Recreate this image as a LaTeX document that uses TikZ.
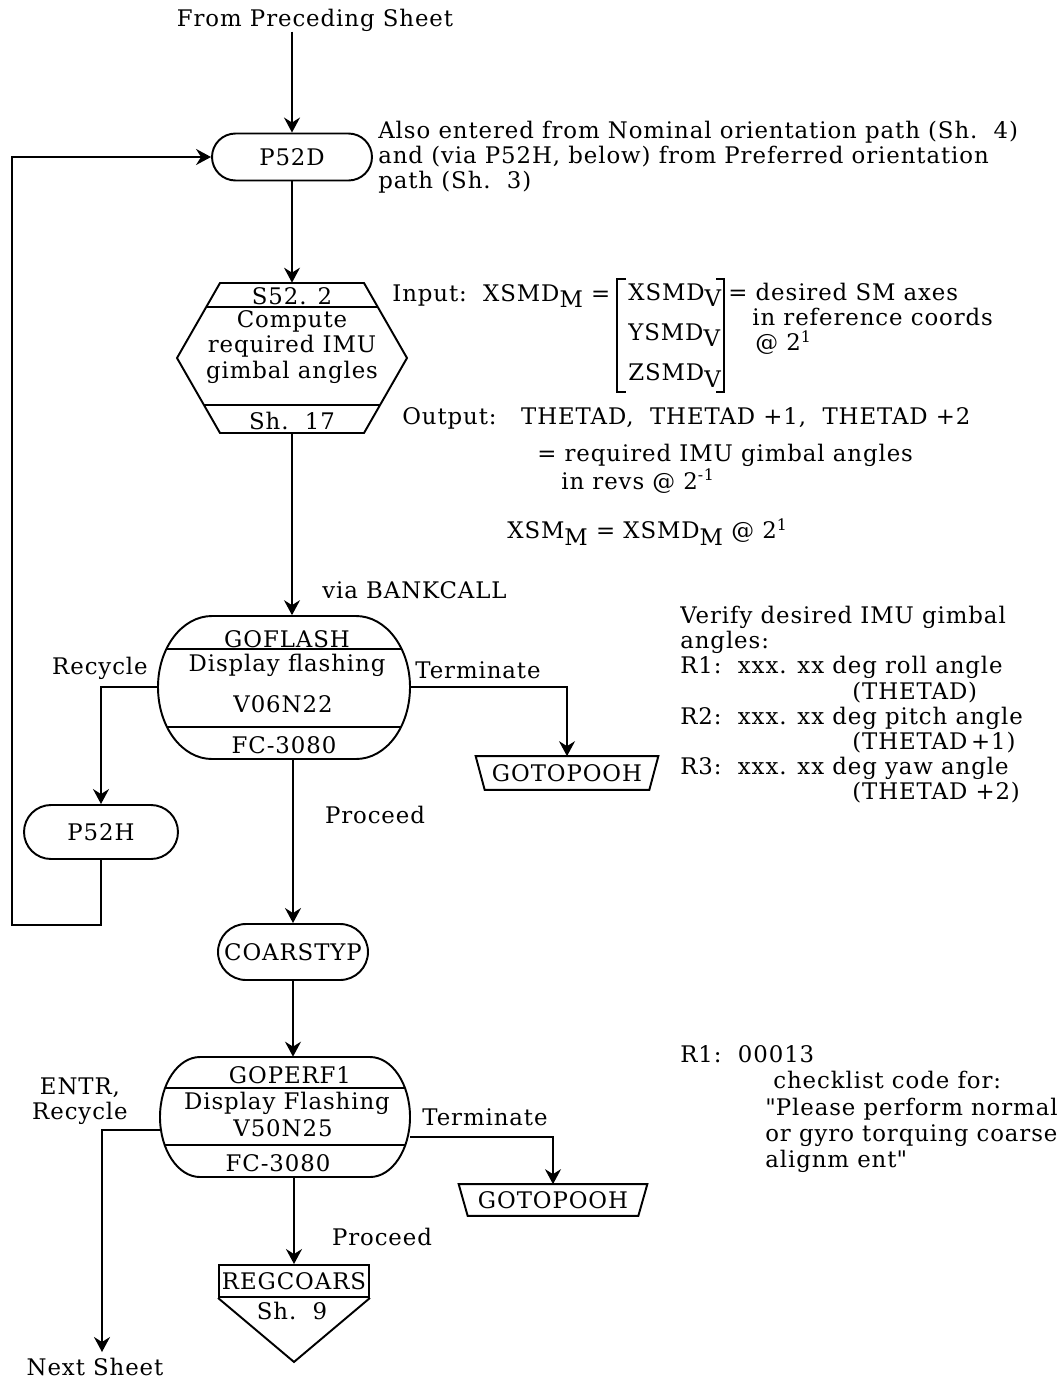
\documentclass[tikz,border=0pt]{standalone}
\usepackage{fontspec}
\setmainfont{DejaVu Serif}[LetterSpace=4]
\usepackage{tikz}
\usetikzlibrary{arrows.meta,shapes.misc}
\newcommand{\lsub}[1]{\raisebox{-0.55ex}{#1}}
\newcommand{\hsup}[1]{\raisebox{0.75ex}{\small #1}}
\tikzstyle{line} = [line width=1.1pt]
\tikzstyle{flow} = [line width=1.1pt, -{Stealth[length=3mm,width=3.2mm,inset=1mm]}]
\tikzstyle{term} = [draw, rounded rectangle, line width=1.1pt, inner sep=0pt]
\tikzstyle{hold} = [inner sep=0pt]
\tikzstyle{lbl} = [inner sep=0pt]
\tikzstyle{note} = [anchor=north west, align=left, inner sep=0pt]

\begin{document}
\begin{tikzpicture}[x=0.02cm, y=-0.02cm, font=\fontsize{13}{14.3}\selectfont]
	\useasboundingbox (0,0) rectangle (1060,1379);

	% entry and P52D
	\node[lbl] (prev) at (315,20) {From Preceding Sheet};
	\node[term, minimum width=3.2cm, minimum height=0.94cm] (p52d) at (292,157) {P52D};
	\node[note] (alsonote) at (378,121) {Also entered from Nominal orientation path (Sh.~~4)\\
		and (via P52H, below) from Preferred orientation\\path (Sh.~~3)};
	\draw[flow] (prev.south -| p52d.north) -- (p52d.north);

	% S52.2 hexagon
	\node[hold, minimum width=4.6cm, minimum height=3cm] (s522) at (292,358) {};
	\draw[line] (220,283) -- (364,283) -- (407,358) -- (364,433) -- (220,433) -- (177,358) -- cycle;
	\draw[line] (206,307) -- (378,307);
	\draw[line] (204,405) -- (380,405);
	\node[lbl] (s522id) at (292,296) {S52. 2};
	\node[lbl, align=center] (s522txt) at (292,347) {Compute\\required IMU\\gimbal angles};
	\node[lbl] (s522sh) at (292,421) {Sh.~~17};
	\draw[flow] (p52d.south) -- (s522.north);

	% input / output notes
	\node[note] (input) at (392,284) {Input:~~XSMD\lsub{M} =};
	\draw[line] (626,279) -| (617,392) -- (626,392);
	\draw[line] (716,279) -| (724,392) -- (716,392);
	\node[note] (xvec) at (628,283) {XSMD\lsub{V}\\[0.3cm]YSMD\lsub{V}\\[0.3cm]ZSMD\lsub{V}};
	\node[note] (desired) at (728,283) {= desired SM axes\\\hspace*{0.48cm}in reference coords\\\hspace*{0.54cm}@ 2\hsup{1}};
	\node[note] (output) at (402,407) {Output:~~~THETAD,~~THETAD +1,~~THETAD +2};
	\node[note] (reqd) at (537,444) {= required IMU gimbal angles\\\hspace*{0.48cm}in revs @ 2\hsup{-1}};
	\node[note] (xsm) at (507,518) {XSM\lsub{M} = XSMD\lsub{M} @ 2\hsup{1}};
	\node[note] (bank) at (322,581) {via BANKCALL};

	% GOFLASH display
	\node[hold, minimum width=5.04cm, minimum height=2.86cm] (goflash) at (284,687) {};
	\draw[line] (212,616) -- (356,616) .. controls (386,616) and (410,648) .. (410,687)
		.. controls (410,727) and (386,759) .. (356,759) -- (212,759)
		.. controls (182,759) and (158,727) .. (158,687)
		.. controls (158,648) and (182,616) .. (212,616) -- cycle;
	\draw[line] (167,649) -- (401,649);
	\draw[line] (167,727) -- (401,727);
	\node[lbl] (gfid) at (287,639) {GOFLASH};
	\node[lbl] (gftxt) at (287,665) {Display flashing};
	\node[lbl] (gfverb) at (283,704) {V06N22};
	\node[lbl] (gffc) at (284,745) {FC-3080};
	\draw[flow] (s522.south) -- (s522.south |- goflash.north);

	\node[note] (verify) at (680,606) {Verify desired IMU gimbal\\angles:\\
		R1:~~xxx. xx deg roll angle\\\hspace*{3.44cm}(THETAD)\\
		R2:~~xxx. xx deg pitch angle\\\hspace*{3.44cm}(THETAD\,+1)\\
		R3:~~xxx. xx deg yaw angle\\\hspace*{3.44cm}(THETAD +2)};

	% recycle to P52H, terminate
	\node[lbl] (recyc) at (100,668) {Recycle};
	\node[term, minimum width=3.08cm, minimum height=1.08cm] (p52h) at (101,832) {P52H};
	\draw[flow] (goflash.west) -| (p52h.north);
	\draw[flow] (p52h.south) |- (12,925) |- (p52d.west);
	\node[lbl] (term1) at (478,670) {Terminate};
	\node[hold, minimum width=3.64cm, minimum height=0.66cm] (gtp1) at (567,773) {GOTOPOOH};
	\draw[line] (gtp1.north west) -- (gtp1.north east) -- ([xshift=-0.18cm]gtp1.south east)
		-- ([xshift=0.18cm]gtp1.south west) -- cycle;
	\draw[flow] (goflash.east) -| (gtp1.north);
	\node[lbl] (proc1) at (375,815) {Proceed};

	% COARSTYP
	\node[term, minimum width=3.0cm, minimum height=1.12cm] (coarstyp) at (293,952) {COARSTYP};
	\draw[flow] (coarstyp.north |- goflash.south) -- (coarstyp.north);

	% GOPERF1 display
	\node[hold, minimum width=5cm, minimum height=2.4cm] (goperf1) at (285,1117) {};
	\draw[line] (200,1057) -- (370,1057) .. controls (392,1057) and (410,1084) .. (410,1117)
		.. controls (410,1150) and (392,1177) .. (370,1177) -- (200,1177)
		.. controls (178,1177) and (160,1150) .. (160,1117)
		.. controls (160,1084) and (178,1057) .. (200,1057) -- cycle;
	\draw[line] (165,1088) -- (405,1088);
	\draw[line] (165,1145) -- (405,1145);
	\node[lbl] (gpid) at (290,1075) {GOPERF1};
	\node[lbl] (gptxt) at (287,1103) {Display Flashing};
	\node[lbl] (gpverb) at (283,1128) {V50N25};
	\node[lbl] (gpfc) at (278,1163) {FC-3080};
	\draw[flow] (coarstyp.south) -- (coarstyp.south |- goperf1.north);

	\node[note, font=\fontsize{13}{15}\selectfont] (chk) at (680,1045) {R1:~~00013\\
		\hspace*{1.86cm}checklist code for:\\\hspace*{1.7cm}\textquotedbl Please perform normal\\
		\hspace*{1.7cm}or gyro torquing coarse\\\hspace*{1.7cm}alignm ent\textquotedbl};

	% exits
	\node[lbl, align=center] (entr) at (80,1101) {ENTR,\\Recycle};
	\coordinate (nxt) at (102,1352);
	\node[lbl] (nextsh) at (95,1367) {Next Sheet};
	\draw[flow] ([yshift=-0.26cm]goperf1.west) -| (nxt);
	\node[lbl] (term2) at (485,1117) {Terminate};
	\node[hold, minimum width=3.76cm, minimum height=0.62cm] (gtp2) at (553,1200) {GOTOPOOH};
	\draw[line] (gtp2.north west) -- (gtp2.north east) -- ([xshift=-0.18cm]gtp2.south east)
		-- ([xshift=0.18cm]gtp2.south west) -- cycle;
	\draw[flow] ([yshift=-0.4cm]goperf1.east) -| (gtp2.north);
	\node[lbl] (proc2) at (382,1237) {Proceed};
	\node[draw, line width=1.1pt, minimum width=3.0cm, minimum height=0.64cm, inner sep=0pt] (regcoars) at (294,1281) {REGCOARS};
	\draw[line] (regcoars.south west) -- ([yshift=-1.28cm]regcoars.south) -- (regcoars.south east);
	\node[lbl] (regsh) at (292,1311) {Sh.~~9};
	\draw[flow] (regcoars.north |- goperf1.south) -- (regcoars.north);
\end{tikzpicture}
\end{document}
